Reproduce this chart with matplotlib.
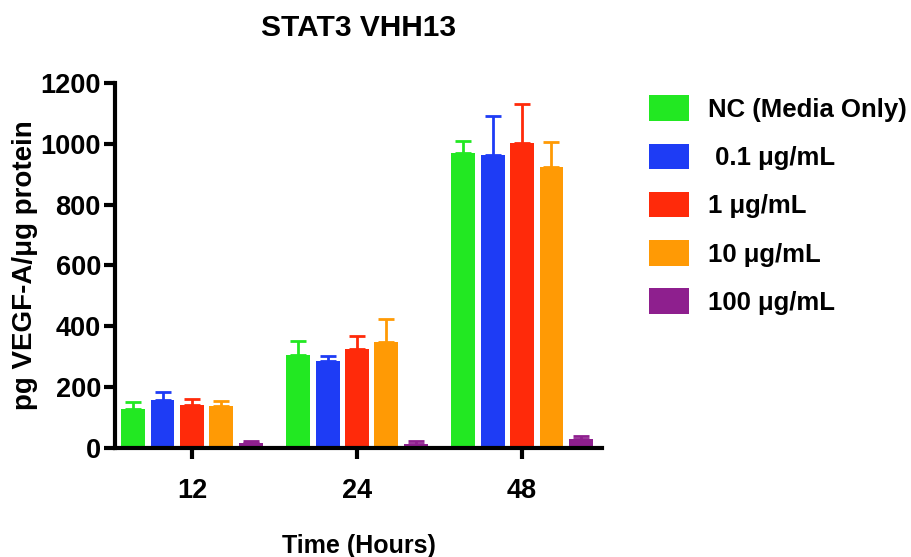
import numpy as np
import matplotlib
matplotlib.use('Agg')
import matplotlib.pyplot as plt

plt.rcParams['font.family'] = ['Liberation Sans', 'DejaVu Sans']
plt.rcParams['font.weight'] = 'bold'

hours = ['12', '24', '48']
groups = ['NC (Media Only)', ' 0.1 \u03bcg/mL', '1 \u03bcg/mL', '10 \u03bcg/mL', '100 \u03bcg/mL']
colors = ['#22E822', '#1E3CF5', '#FF2A0A', '#FF9A05', '#8E1F8E']

# mean and upper SD per treatment, one entry per time point
means = [
    [128, 306, 970],
    [158, 286, 964],
    [141, 326, 1003],
    [138, 349, 924],
    [15, 12, 30],
]
errs = [
    [23, 46, 40],
    [26, 17, 128],
    [20, 42, 129],
    [17, 75, 83],
    [8, 10, 10],
]

x = np.arange(len(hours))
pitch = 0.178
width = 0.145

fig = plt.figure(figsize=(9.11, 5.57), dpi=100)
ax = fig.add_axes([0.126, 0.196, 0.535, 0.655])

for i, (lab, c) in enumerate(zip(groups, colors)):
    pos = x + (i - 2) * pitch
    ax.bar(pos, means[i], width, color=c, label=lab, zorder=2)
    ax.errorbar(pos, means[i], yerr=[np.zeros(3), errs[i]], fmt='none',
                ecolor=c, elinewidth=2, capsize=6, capthick=2, zorder=1)

ax.set_xlim(-0.467, 2.485)
ax.set_ylim(0, 1200)
ax.set_yticks(range(0, 1201, 200))
ax.set_xticks(x)
ax.set_xticklabels(hours)
ax.spines['top'].set_visible(False)
ax.spines['right'].set_visible(False)
for s in ['left', 'bottom']:
    ax.spines[s].set_linewidth(3)
ax.tick_params(axis='both', width=3, length=8, labelsize=19.5)
ax.tick_params(axis='y', pad=2)
ax.tick_params(axis='x', pad=14)

ax.set_xlabel('Time (Hours)', fontsize=18, fontweight='bold', labelpad=21)
ax.set_ylabel('pg VEGF-A/\u03bcg protein', fontsize=20, fontweight='bold', labelpad=2)
ax.set_title('STAT3 VHH13', fontsize=21.5, fontweight='bold', pad=34)

fig.legend(loc='upper left', bbox_to_anchor=(0.712, 0.829), frameon=False,
           prop={'size': 18.5, 'weight': 'bold'}, handlelength=1.56, handleheight=1.15,
           labelspacing=0.85, handletextpad=0.74, borderpad=0, borderaxespad=0)

plt.savefig('out.png', dpi=100)
